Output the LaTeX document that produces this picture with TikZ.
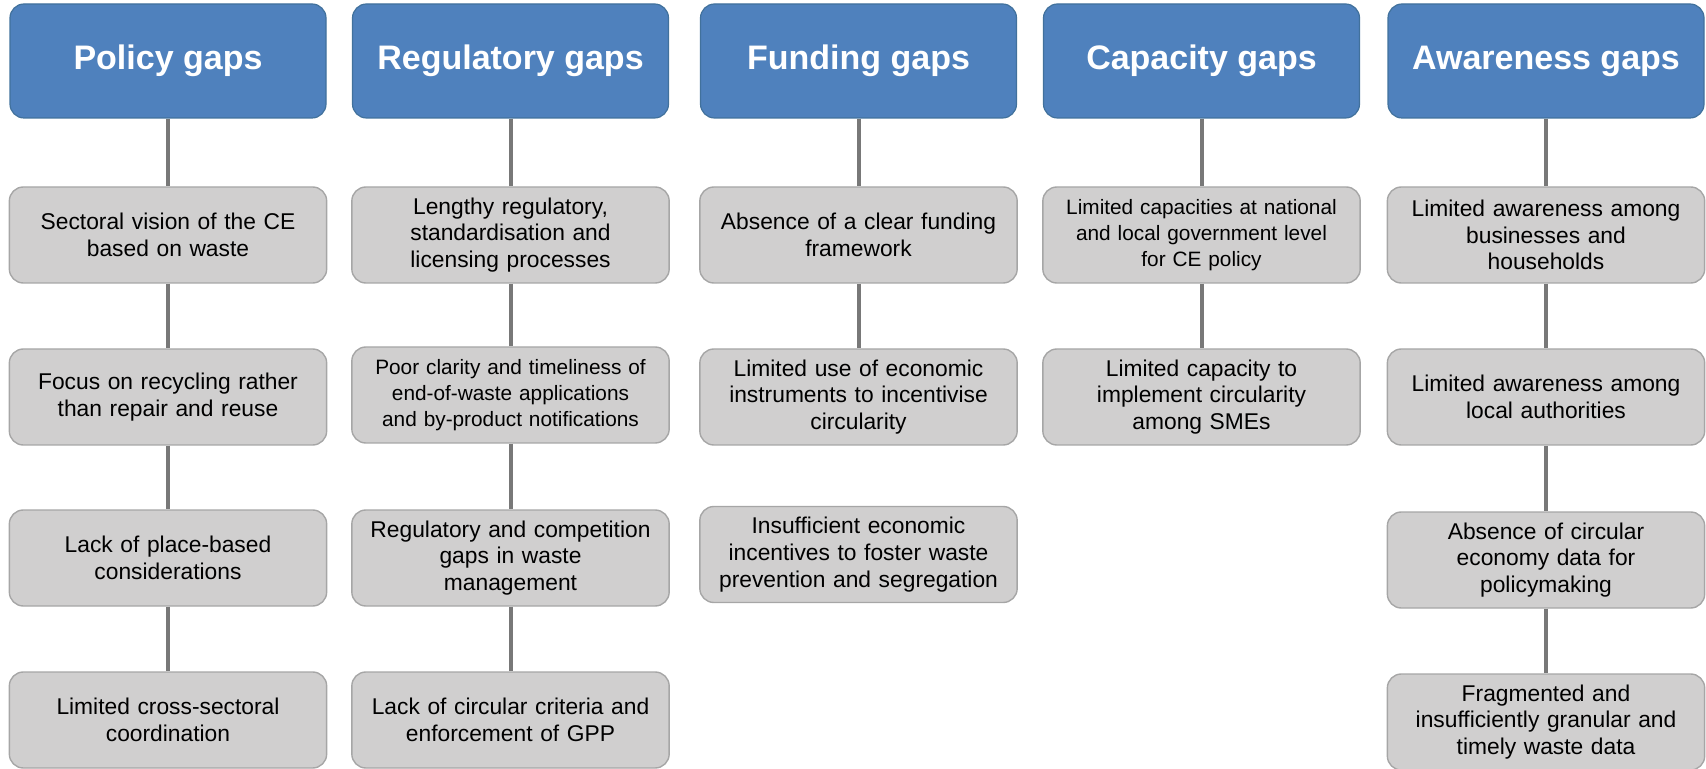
\documentclass[tikz,border=0pt]{standalone}
\usepackage{fontspec}
\setmainfont{Liberation Sans}
\usetikzlibrary{positioning}
\definecolor{headblue}{RGB}{79,129,189}
\definecolor{headedge}{RGB}{65,113,156}
\definecolor{boxgray}{RGB}{208,207,207}
\definecolor{boxedge}{RGB}{166,166,166}
\definecolor{linkgray}{RGB}{120,120,120}
\tikzset{gaphead/.style={draw=headedge, line width=0.6pt, fill=headblue, rounded corners=7pt,
    minimum width=158pt, minimum height=57pt, text=white, font=\fontsize{17}{20}\selectfont\bfseries},
  gapbox/.style={draw=boxedge, line width=0.7pt, fill=boxgray, rounded corners=7pt,
    minimum width=158pt, minimum height=48pt, text width=152pt, align=center,
    font=\fontsize{11.4}{13.4}\selectfont},
  smallgap/.style={font=\fontsize{10.4}{13}\selectfont},
  gaplink/.style={draw=linkgray, line width=2pt}}

\begin{document}
\begin{tikzpicture}[x=0.5pt,y=-0.5pt]
\useasboundingbox (0,0) rectangle (1706,769);
% headers
\node[gaphead] (pol) at (168,61) {Policy gaps};
\node[gaphead] (reg) at (510.5,61) {Regulatory gaps};
\node[gaphead] (fun) at (858.5,61) {Funding gaps};
\node[gaphead] (cap) at (1201.5,61) {Capacity gaps};
\node[gaphead] (awa) at (1546,61) {Awareness gaps};
% policy
\node[gapbox] (pol1) at (168,235) {Sectoral vision of the CE\\based on waste};
\node[gapbox] (pol2) at (168,397) {Focus on recycling rather\\than repair and reuse};
\node[gapbox] (pol3) at (168,558) {Lack of place-based\\considerations};
\node[gapbox] (pol4) at (168,720) {Limited cross-sectoral\\coordination};
% regulatory
\node[gapbox] (reg1) at (510.5,235) {Lengthy regulatory,\\standardisation and\\licensing processes};
\node[gapbox, smallgap] (reg2) at (510.5,395) {Poor clarity and timeliness of\\end-of-waste applications\\and by-product notifications};
\node[gapbox] (reg3) at (510.5,558) {Regulatory and competition\\gaps in waste\\management};
\node[gapbox] (reg4) at (510.5,720) {Lack of circular criteria and\\enforcement of GPP};
% funding
\node[gapbox] (fun1) at (858.5,235) {Absence of a clear funding\\framework};
\node[gapbox] (fun2) at (858.5,397) {Limited use of economic\\instruments to incentivise\\circularity};
\node[gapbox] (fun3) at (858.5,554.5) {Insufficient economic\\incentives to foster waste\\prevention and segregation};
% capacity
\node[gapbox, smallgap] (cap1) at (1201.5,235) {Limited capacities at national\\and local government level\\for CE policy};
\node[gapbox] (cap2) at (1201.5,397) {Limited capacity to\\implement circularity\\among SMEs};
% awareness
\node[gapbox] (awa1) at (1546,235) {Limited awareness among\\businesses and\\households};
\node[gapbox] (awa2) at (1546,397) {Limited awareness among\\local authorities};
\node[gapbox] (awa3) at (1546,560) {Absence of circular\\economy data for\\policymaking};
\node[gapbox] (awa4) at (1546,722) {Fragmented and\\insufficiently granular and\\timely waste data};
% links
\foreach \a/\b in {pol/pol1,pol1/pol2,pol2/pol3,pol3/pol4,
    reg/reg1,reg1/reg2,reg2/reg3,reg3/reg4,
    fun/fun1,fun1/fun2,
    cap/cap1,cap1/cap2,
    awa/awa1,awa1/awa2,awa2/awa3,awa3/awa4}
  \draw[gaplink] (\a)--(\b);
\end{tikzpicture}
\end{document}
